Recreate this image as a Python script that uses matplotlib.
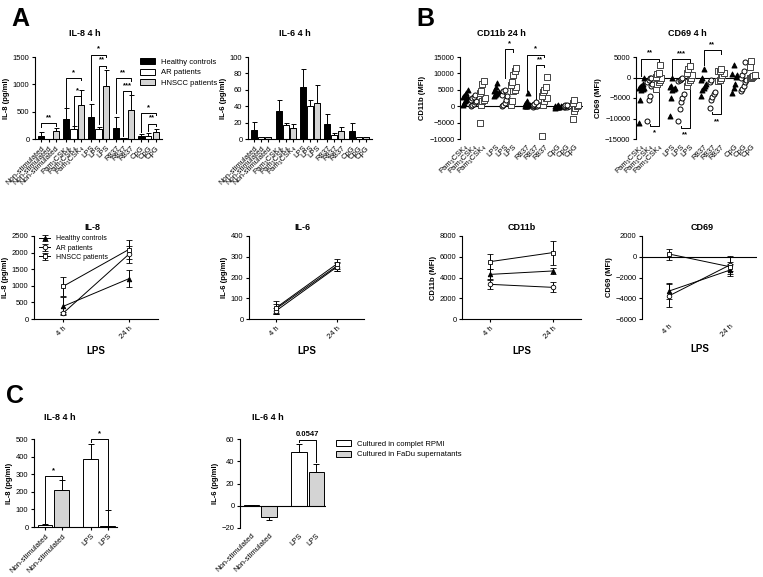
import numpy as np
import matplotlib
matplotlib.use("Agg")
import matplotlib.pyplot as plt
from matplotlib.patches import Patch

plt.rcParams.update({
    "font.family": ["Liberation Sans", "DejaVu Sans"], "font.size": 5.5,
    "axes.linewidth": 0.8, "xtick.major.width": 0.8, "ytick.major.width": 0.8,
    "xtick.major.size": 2.5, "ytick.major.size": 2.5, "xtick.major.pad": 1.5, "ytick.major.pad": 1.5,
    "axes.spines.top": False, "axes.spines.right": False,
})

W, H = 763, 577
GREY = "#d4d4d4"
BAR_COLORS = ["black", "white", GREY]
GROUPS = ["Healthy controls", "AR patients", "HNSCC patients"]

# ---- panel A, top: 4 h bars (rows = stimulus, cols = healthy / AR / HNSCC)
STIMS_A = ["Non-stimulated", "Pam₃CSK₄", "LPS", "R837", "CpG"]
IL8_A_MEAN = [[60, 3, 150], [365, 183, 620], [400, 183, 965], [207, 18, 537], [49, 55, 122]]
IL8_A_ERR = [[60, 0, 60], [200, 48, 270], [240, 37, 305], [195, 4, 263], [42, 55, 61]]
IL6_A_MEAN = [[10.4, 3, 2], [34, 17, 13], [64, 40, 44], [18, 5, 10], [10, 3, 2]]
IL6_A_ERR = [[10, 0, 0], [14, 3, 5], [21, 8, 22], [12, 2, 5], [10, 0, 0]]
# brackets: (bar i, bar j, top, left end, right end, label)
IL8_A_SIG = [(0, 2, 285, 215, 245, "**"),
             (3, 5, 1115, 590, 1075, "*"), (4, 5, 780, 265, 740, "*"),
             (6, 8, 1540, 720, 1500, "*"), (7, 8, 1340, 280, 1300, "**"),
             (9, 11, 1110, 475, 1070, "**"), (10, 11, 870, 50, 830, "***"),
             (12, 14, 475, 120, 435, "*"), (13, 14, 280, 140, 240, "**")]

# ---- panel B, top: per-donor MFI (cols = Pam3CSK4 / LPS / R837 / CpG x healthy / AR / HNSCC)
STIMS_B = ["Pam₃CSK₄", "LPS", "R837", "CpG"]
CD11B_PTS = [
    [5000, 4000, 3500, 3000, 2800, 2500, 2000, 1500, 1000, 500],
    [3300, 2800, 2500, 2000, 1500, 1200, 800, 500, 200],
    [7600, 6800, 4500, 4000, 2600, 2000, 1500, 500, -5000],
    [7000, 6000, 5000, 4500, 4200, 4000, 3800, 3500, 3000],
    [5000, 4500, 3500, 3000, 2000, 1000, 500, 0],
    [11500, 10800, 9500, 7500, 6500, 6000, 5000, 4500, 1500, 500],
    [4000, 1500, 1000, 800, 500, 300, 200, 100, 0],
    [1200, 800, 500, 300, 200, 100, 0, -200],
    [8800, 5800, 5000, 4200, 3000, 2500, 2400, 1500, 400, -9000],
    [300, 200, 100, 0, -100, -200, -300, -500],
    [500, 300, 200, 100, 0, -100, -200, -300],
    [1800, 1000, 500, 0, -500, -1500, -3800],
]
CD69_PTS = [
    [0, -1500, -2000, -2200, -2500, -2600, -2800, -3000, -5500, -11000],
    [0, 0, -500, -1000, -1500, -2000, -4500, -5500, -10500],
    [3000, 1000, 800, 200, 0, -500, -1000, -1500, -2800],
    [0, -2000, -2300, -2500, -2700, -3000, -5000, -9500],
    [0, -300, -500, -800, -4000, -5000, -6000, -7800, -10600],
    [2800, 2000, 1000, 500, 0, -500, -1000, -2000],
    [2000, 0, -500, -1500, -2000, -2500, -3000, -4500],
    [-500, -1000, -3500, -4000, -4800, -5500, -7500],
    [2000, 1700, 1500, 1000, 500, 0, -500, -800],
    [3000, 800, 500, 200, -1500, -2500, -3800],
    [3800, 1500, 500, 0, -500, -1000, -2000, -2800, -3300],
    [4000, 2500, 500, 300, 200, 0, -200],
]
CD11B_SIG = [(4, 5, 17400, 8600, 16600, "*"), (6, 8, 15700, 4500, 14900, "*"),
             (7, 8, 12600, 1500, 11800, "**")]
CD69_SIG = [(0, 2, 4600, 400, 3600, "**"), (1, 2, -11800, -11300, -3000, "*"),
            (3, 5, 4500, 400, 3400, "***"), (4, 5, -12300, -11800, -2500, "**"),
            (6, 8, 6600, 3000, 5800, "**"), (7, 8, -9000, -8500, -1200, "**")]

# ---- second row: LPS time course (rows = healthy / AR / HNSCC, cols = 4 h / 24 h)
TIMES = ["4 h", "24 h"]
IL8_L_MEAN = [[383, 1210], [181, 1945], [988, 2090]]
IL8_L_ERR = [[265, 255], [30, 260], [285, 275]]
IL6_L_MEAN = [[50, 255], [40, 250], [55, 265]]
IL6_L_ERR = [[20, 22], [15, 18], [30, 25]]
CD11B_L_MEAN = [[4300, 4630], [3340, 3050], [5530, 6400]]
CD11B_L_ERR = [[480, 320], [420, 480], [740, 1150]]
CD69_L_MEAN = [[-3300, -1290], [-3760, -800], [260, -960]]
CD69_L_ERR = [[800, 600], [1100, 900], [530, 450]]

# ---- panel C: complete RPMI vs FaDu supernatant
C_LABELS = ["Non-stimulated", "Non-stimulated", "LPS", "LPS"]
C_COLORS = ["white", GREY, "white", GREY]
C_IL8_MEAN = [11, 210, 389, 8]
C_IL8_ERR = [4, 57, 82, 91]
C_IL6_MEAN = [0.3, -10, 48.3, 30]
C_IL6_ERR = [0, 2.5, 7.5, 7.8]
C_IL8_SIG = [(0, 1, 290, 25, 268, "*"), (2, 3, 500, 482, 100, "*")]
C_IL6_SIG = [(2, 3, 59, 57, 39, "0.0547")]

fig = plt.figure(figsize=(W / 100, H / 100), dpi=100)


def px_axes(l, t, r, b):
    return fig.add_axes([l / W, 1 - b / H, (r - l) / W, (b - t) / H])


def ftext(x, y, s, size=6.5, **kw):
    fig.text(x / W, 1 - y / H, s, ha="center", va="center", fontsize=size, fontweight="bold", **kw)


def bracket(ax, xs, sig):
    for i, j, top, le, re, lab in sig:
        ax.plot([xs[i], xs[i], xs[j], xs[j]], [le, top, top, re], color="k", lw=0.7, clip_on=False)
        above = top > max(le, re)
        ax.annotate(lab, ((xs[i] + xs[j]) / 2, top), xytext=(0, 1.5 if above else -2.5),
                    textcoords="offset points", ha="center", va="bottom" if above else "top",
                    fontsize=5.5, fontweight="bold", annotation_clip=False)


def bar_err(vals, errs):
    lo = [e if v < 0 else 0 for v, e in zip(vals, errs)]
    hi = [0 if v < 0 else e for v, e in zip(vals, errs)]
    return [lo, hi]


def rot_labels(ax, labels, size=5.5):
    ax.set_xticklabels(labels, rotation=45, ha="right", rotation_mode="anchor", fontsize=size)


# ---------------- A: bars
bar_x = [g * 3.5 + j for g in range(5) for j in range(3)]
for (l, r), mean, err, ylab, ylim, step, sig in [
        ((35, 162), IL8_A_MEAN, IL8_A_ERR, "IL-8 (pg/ml)", 1500, 500, IL8_A_SIG),
        ((248, 372), IL6_A_MEAN, IL6_A_ERR, "IL-6 (pg/ml)", 100, 20, None)]:
    ax = px_axes(l, 57, r, 139)
    vals = [v for row in mean for v in row]
    errs = [e for row in err for e in row]
    cols = [BAR_COLORS[j] for g in range(5) for j in range(3)]
    ax.bar(bar_x, vals, 0.85, color=cols, edgecolor="k", lw=0.7, yerr=bar_err(vals, errs),
           error_kw=dict(capsize=1.8, elinewidth=0.7, capthick=0.7))
    ax.set_ylim(0, ylim)
    ax.set_yticks(np.arange(0, ylim + 1, step))
    ax.set_xlim(bar_x[0] - 0.9, bar_x[-1] + 0.9)
    ax.set_xticks(bar_x)
    rot_labels(ax, [s for s in STIMS_A for _ in range(3)])
    ax.set_ylabel(ylab, fontweight="bold", labelpad=2)
    if sig:
        bracket(ax, bar_x, sig)

ftext(85, 33, "IL-8 4 h")
ftext(295, 33, "IL-6 4 h")
handles = [Patch(facecolor=c, edgecolor="k", lw=0.7, label=g) for c, g in zip(BAR_COLORS, GROUPS)]
fig.legend(handles=handles, loc="upper left", bbox_to_anchor=(137 / W, 1 - 55 / H), frameon=False,
           fontsize=5.5, handlelength=2.0, handleheight=0.9, labelspacing=0.35, borderaxespad=0)

# ---------------- B: scatter
pt_x = [g * 3.6 + j for g in range(4) for j in range(3)]
MARK = [dict(marker="^", facecolor="k", edgecolor="k"),
        dict(marker="o", facecolor="white", edgecolor="k"),
        dict(marker="s", facecolor="white", edgecolor="#444444")]
for (l, r), pts, ylab, ylim, sig in [
        ((460, 583), CD11B_PTS, "CD11b (MFI)", (-10000, 15000), CD11B_SIG),
        ((636, 760), CD69_PTS, "CD69 (MFI)", (-15000, 5000), CD69_SIG)]:
    ax = px_axes(l, 57, r, 139)
    for k, col in enumerate(pts):
        v = np.sort(np.array(col, float))
        off = ((np.arange(len(v)) % 5) - 2) * 0.15
        ax.scatter(pt_x[k] + off, v, s=13, lw=0.7, zorder=3, **MARK[k % 3])
    ax.axhline(0, color="k", lw=0.8)
    ax.spines["bottom"].set_visible(False)
    ax.set_ylim(*ylim)
    ax.set_yticks(np.arange(ylim[0], ylim[1] + 1, 5000))
    ax.set_xlim(-0.6, pt_x[-1] + 0.9)
    ax.set_xticks(pt_x)
    ax.tick_params(axis="x", length=0, pad=3)
    rot_labels(ax, [s for s in STIMS_B for _ in range(3)])
    ax.set_ylabel(ylab, fontweight="bold", labelpad=2)
    bracket(ax, pt_x, sig)

ftext(501, 33, "CD11b 24 h")
ftext(687, 33, "CD69 4 h")

# ---------------- second row: time course
LINE_MARK = [dict(marker="^", mfc="k", mec="k"), dict(marker="o", mfc="white", mec="k"),
             dict(marker="s", mfc="white", mec="k")]
for (l, r), mean, err, ylab, ylim, step, title, tx in [
        ((34, 158), IL8_L_MEAN, IL8_L_ERR, "IL-8 (pg/ml)", (0, 2500), 500, "IL-8", 92),
        ((249, 364), IL6_L_MEAN, IL6_L_ERR, "IL-6 (pg/ml)", (0, 400), 100, "IL-6", 302),
        ((462, 581), CD11B_L_MEAN, CD11B_L_ERR, "CD11b (MFI)", (0, 8000), 2000, "CD11b", 522),
        ((642, 757), CD69_L_MEAN, CD69_L_ERR, "CD69 (MFI)", (-6000, 2000), 2000, "CD69", 702)]:
    ax = px_axes(l, 236, r, 319)
    for k in range(3):
        ax.errorbar([0, 1], mean[k], yerr=err[k], color="k", lw=0.7, ms=3.3, mew=0.6,
                    capsize=2, elinewidth=0.7, capthick=0.7, label=GROUPS[k], **LINE_MARK[k])
    ax.set_ylim(*ylim)
    ax.set_yticks(np.arange(ylim[0], ylim[1] + 1, step))
    ax.set_xlim(-0.45, 1.45)
    ax.set_xticks([0, 1])
    rot_labels(ax, TIMES)
    ax.set_ylabel(ylab, fontweight="bold", labelpad=2)
    ax.set_xlabel("LPS", fontweight="bold", fontsize=7, labelpad=4)
    if ylim[0] < 0:
        ax.axhline(0, color="k", lw=0.8)
        ax.spines["bottom"].set_visible(False)
        ax.tick_params(axis="x", length=0, pad=3)
    if title == "IL-8":
        ax.legend(loc="upper left", bbox_to_anchor=(0.02, 1.04), frameon=False, fontsize=5,
                  handlelength=1.6, labelspacing=0.3, borderaxespad=0)
    ftext(tx, 228, title)

# ---------------- C
c_x = [0, 1, 2.7, 3.7]
for (l, r, b), mean, err, ylab, ylim, step, sig in [
        ((34, 117, 527), C_IL8_MEAN, C_IL8_ERR, "IL-8 (pg/ml)", (0, 500), 100, C_IL8_SIG),
        ((240, 326, 528), C_IL6_MEAN, C_IL6_ERR, "IL-6 (pg/ml)", (-20, 60), 20, C_IL6_SIG)]:
    ax = px_axes(l, 439, r, b)
    ax.bar(c_x, mean, 0.88, color=C_COLORS, edgecolor="k", lw=0.7, yerr=bar_err(mean, err),
           error_kw=dict(capsize=2, elinewidth=0.7, capthick=0.7))
    ax.set_ylim(*ylim)
    ax.set_yticks(np.arange(ylim[0], ylim[1] + 1, step))
    ax.set_xlim(-0.65, 4.25)
    ax.set_xticks(c_x)
    rot_labels(ax, C_LABELS)
    ax.set_ylabel(ylab, fontweight="bold", labelpad=2)
    if ylim[0] < 0:
        ax.axhline(0, color="k", lw=0.8)
        ax.spines["bottom"].set_visible(False)
        ax.tick_params(axis="x", length=0, pad=3)
    bracket(ax, c_x, sig)

ftext(60, 418, "IL-8 4 h")
ftext(268, 418, "IL-6 4 h")
handles = [Patch(facecolor=c, edgecolor="k", lw=0.7, label=s)
           for c, s in zip(["white", GREY], ["Cultured in complet RPMI", "Cultured in FaDu supernatants"])]
fig.legend(handles=handles, loc="upper left", bbox_to_anchor=(333 / W, 1 - 437 / H), frameon=False,
           fontsize=5.5, handlelength=2.0, handleheight=0.9, labelspacing=0.35, borderaxespad=0)

# panel letters
for s, x, y in [("A", 20, 19), ("B", 425, 19), ("C", 15, 396)]:
    ftext(x, y, s, size=18)

fig.savefig("out.png", dpi=100)
